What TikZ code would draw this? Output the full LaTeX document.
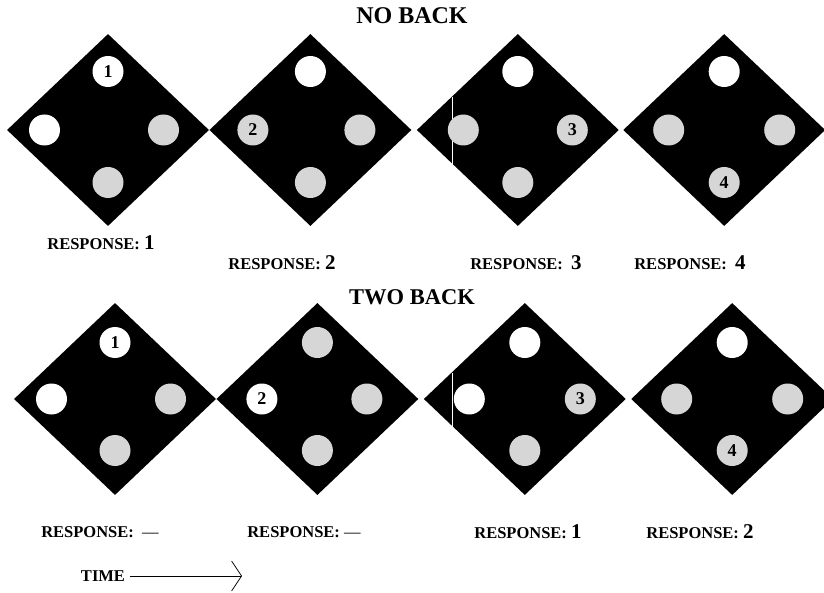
\documentclass[tikz,border=0pt]{standalone}
\usepackage{fontspec}
\setmainfont{Liberation Serif}
\usetikzlibrary{arrows.meta,positioning,shapes.geometric}
\newcommand{\answer}[1]{{\fontsize{21}{21}\selectfont #1}}
\tikzset{
  tile/.style={diamond, fill=black, inner sep=0pt, minimum width=202pt, minimum height=192pt},
  lit/.style={circle, fill=white, inner sep=0pt, minimum size=31pt, font=\fontsize{18}{18}\selectfont\bfseries},
  dull/.style={lit, fill=black!16},
  heading/.style={font=\fontsize{24}{24}\selectfont\bfseries, inner sep=0pt},
  resp/.style={font=\fontsize{16.5}{16.5}\selectfont\bfseries, inner sep=0pt},
  timearrow/.style={-{Straight Barb[length=10pt,width=30pt]}, line width=0.7pt}
}
\begin{document}
\begin{tikzpicture}[x=1pt, y=-1pt]
\useasboundingbox (0,0) rectangle (824,593);
% no back
\node[heading] (nb) at (412,16) {NO BACK};
\node[tile] (a1) at (108,130) {};
\node[tile, right=0pt of a1] (a2) {};
\node[tile, right=5pt of a2] (a3) {};
\node[tile, right=4pt of a3] (a4) {};
\draw[white, line width=1pt] (452,97) -- (452,165);
\node[lit, below=22pt of a1.north] (a1n) {1};
\node[lit, right=22pt of a1.west] (a1w) {};
\node[dull, left=30pt of a1.east] (a1e) {};
\node[dull, above=28pt of a1.south] (a1s) {};
\node[lit, below=22pt of a2.north] (a2n) {};
\node[dull, right=28pt of a2.west] (a2w) {2};
\node[dull, left=36pt of a2.east] (a2e) {};
\node[dull, above=28pt of a2.south] (a2s) {};
\node[lit, below=22pt of a3.north] (a3n) {};
\node[dull, right=31pt of a3.west] (a3w) {};
\node[dull, left=31pt of a3.east] (a3e) {3};
\node[dull, above=28pt of a3.south] (a3s) {};
\node[lit, below=22pt of a4.north] (a4n) {};
\node[dull, right=30pt of a4.west] (a4w) {};
\node[dull, left=30pt of a4.east] (a4e) {};
\node[dull, above=28pt of a4.south] (a4s) {4};
\node[resp] (ra1) at (101,243) {RESPONSE: \answer{1}};
\node[resp] (ra2) at (282,263) {RESPONSE: \answer{2}};
\node[resp] (ra3) at (526,263) {RESPONSE:\ \ \answer{3}};
\node[resp] (ra4) at (690,263) {RESPONSE:\ \ \answer{4}};
% two back
\node[heading, font=\fontsize{22.5}{22.5}\selectfont\bfseries] (tb) at (412,297) {TWO BACK};
\node[tile] (b1) at (115,399) {};
\node[tile, right=0pt of b1] (b2) {};
\node[tile, right=5pt of b2] (b3) {};
\node[tile, right=5pt of b3] (b4) {};
\draw[white, line width=1pt] (452,373) -- (452,427);
\node[lit, below=24pt of b1.north] (b1n) {1};
\node[lit, right=22pt of b1.west] (b1w) {};
\node[dull, left=30pt of b1.east] (b1e) {};
\node[dull, above=29pt of b1.south] (b1s) {};
\node[dull, below=24pt of b2.north] (b2n) {};
\node[lit, right=30pt of b2.west] (b2w) {2};
\node[dull, left=36pt of b2.east] (b2e) {};
\node[dull, above=29pt of b2.south] (b2s) {};
\node[lit, below=24pt of b3.north] (b3n) {};
\node[lit, right=30pt of b3.west] (b3w) {};
\node[dull, left=30pt of b3.east] (b3e) {3};
\node[dull, above=29pt of b3.south] (b3s) {};
\node[lit, below=24pt of b4.north] (b4n) {};
\node[dull, right=30pt of b4.west] (b4w) {};
\node[dull, left=30pt of b4.east] (b4e) {};
\node[dull, above=29pt of b4.south] (b4s) {4};
\node[resp] (rb1) at (100,532) {RESPONSE:\ \ \textmd{---}};
\node[resp] (rb2) at (304,532) {RESPONSE: \textmd{---}};
\node[resp] (rb3) at (528,532) {RESPONSE: \answer{1}};
\node[resp] (rb4) at (700,532) {RESPONSE: \answer{2}};
% time
\node[resp] (time) at (103,576) {TIME};
\coordinate (tend) at (242,576);
\draw[timearrow] ([xshift=5pt]time.east) -- (tend);
\end{tikzpicture}
\end{document}
